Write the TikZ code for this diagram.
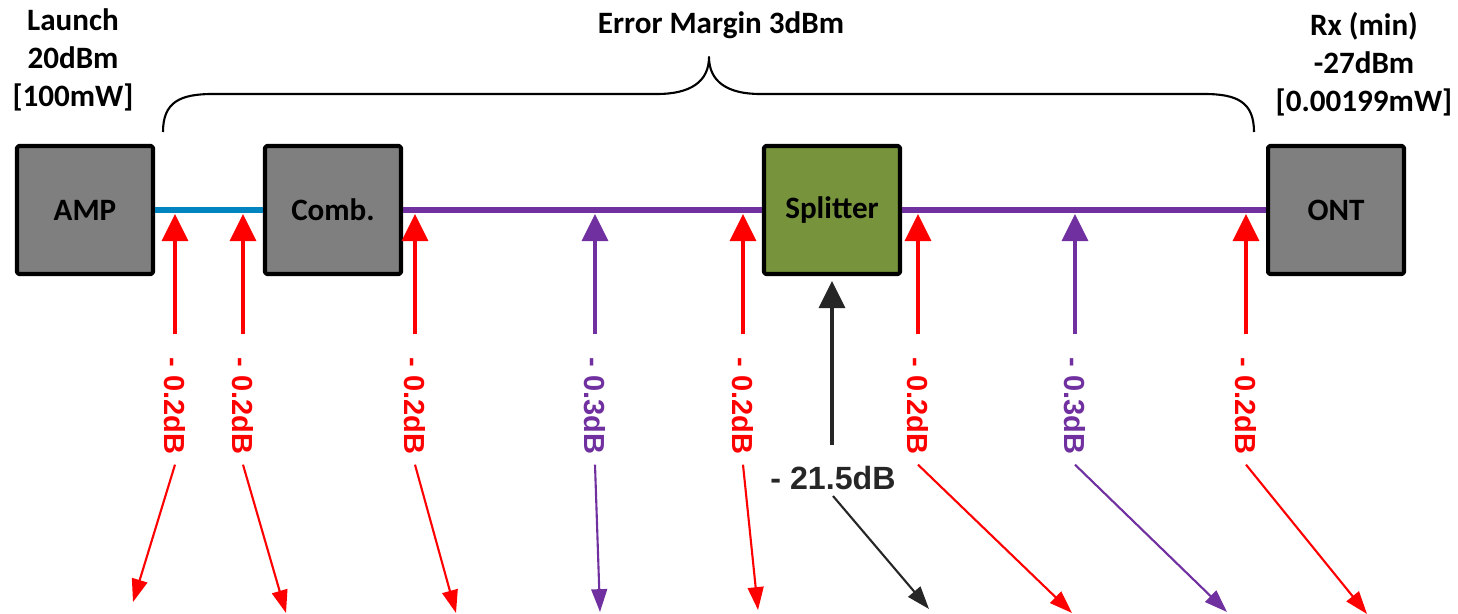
\documentclass[tikz,border=0pt]{standalone}
\usepackage{fontspec}
\setmainfont{Carlito}
\newfontfamily\arialfont{Liberation Sans}
\usetikzlibrary{arrows.meta}

\definecolor{ampgray}{HTML}{7F7F7F}
\definecolor{splgreen}{HTML}{77933C}
\definecolor{fibblue}{HTML}{0084C0}
\definecolor{fibpurple}{HTML}{7030A0}
\definecolor{lossdark}{HTML}{262626}

\begin{document}
\begin{tikzpicture}[line join=round, >={Triangle[width=14.8pt,length=15.4pt]}, x=0.02cm, y=-0.02cm,
  box/.style={draw, line width=2.3pt, fill=ampgray, rounded corners=1pt, minimum width=2.72cm, minimum height=2.56cm, font=\bfseries\fontsize{17.7}{21.6}\selectfont},
  info/.style={align=center, font=\bfseries\fontsize{17.7}{21.6}\selectfont},
  fiber/.style={line width=3.4pt},
  dbtxt/.style={rotate=-90, inner sep=0.2cm, font=\arialfont\bfseries\fontsize{16.5}{18}\selectfont},
  up/.style={line width=1.9pt, ->, shorten <=0.26cm},
  down/.style={line width=1.2pt, -{Triangle[width=9pt,length=13pt]}}]
  \useasboundingbox (0,0) rectangle (1458,614);
  % blocs
  \node[box] (amp) at (85,210) {AMP};
  \node[box] (comb) at (333,210) {Comb.};
  \node[box, fill=splgreen] (spl) at (832,210) {Splitter};
  \node[box] (ont) at (1336,210) {ONT};
  % fibres
  \draw[fiber, fibblue] (amp) -- (comb);
  \draw[fiber, fibpurple] (comb) -- (spl);
  \draw[fiber, fibpurple] (spl) -- (ont);
  % textes du haut
  \node[info] (launch) at (73,60) {Launch\\20dBm\\{[}100mW{]}};
  \node[info] (rx) at (1364,64) {Rx (min)\\-27dBm\\{[}0.00199mW{]}};
  \node[info] (margin) at (721,25) {Error Margin 3dBm};
  \draw[line width=1.2pt] (163,132) .. controls (163,102) and (180,94) .. (213,94) -- (657,94)
    .. controls (690,94) and (709,82) .. (709,57) .. controls (709,82) and (728,94) .. (760,94)
    -- (1204,94) .. controls (1237,94) and (1254,102) .. (1254,132);
  % points de perte
  \coordinate (t1) at (175,214);
  \coordinate (t2) at (243,214);
  \coordinate (t3) at (415,214);
  \coordinate (t4) at (595,214);
  \coordinate (t5) at (743,214);
  \coordinate (t6) at (918,214);
  \coordinate (t7) at (1075,214);
  \coordinate (t8) at (1246,214);
  \coordinate (e1) at (133,602);
  \coordinate (e2) at (286,613);
  \coordinate (e3) at (456,613);
  \coordinate (e4) at (600,612);
  \coordinate (e5) at (758,610);
  \coordinate (e6) at (1072,613);
  \coordinate (e7) at (1227,612);
  \coordinate (e8) at (1367,614);
  \coordinate (e9) at (929,609);
  \node[dbtxt, text=red] (l1) at (175,406) {- 0.2dB};
  \node[dbtxt, text=red] (l2) at (243,406) {- 0.2dB};
  \node[dbtxt, text=red] (l3) at (415,406) {- 0.2dB};
  \node[dbtxt, text=fibpurple] (l4) at (595,406) {- 0.3dB};
  \node[dbtxt, text=red] (l5) at (743,406) {- 0.2dB};
  \node[dbtxt, text=red] (l6) at (918,406) {- 0.2dB};
  \node[dbtxt, text=fibpurple] (l7) at (1075,406) {- 0.3dB};
  \node[dbtxt, text=red] (l8) at (1246,406) {- 0.2dB};
  \node[text=lossdark, font=\arialfont\bfseries\fontsize{18.3}{20}\selectfont] (splloss) at (833,478) {- 21.5dB};
  % fleches
  \draw[up, red] (l1.west) -- (t1);
  \draw[up, red] (l2.west) -- (t2);
  \draw[up, red] (l3.west) -- (t3);
  \draw[up, fibpurple] (l4.west) -- (t4);
  \draw[up, red] (l5.west) -- (t5);
  \draw[up, red] (l6.west) -- (t6);
  \draw[up, fibpurple] (l7.west) -- (t7);
  \draw[up, red] (l8.west) -- (t8);
  \draw[up, lossdark, shorten <=0pt, shorten >=0.1cm] ([yshift=0.3cm]splloss.north -| spl.south) -- (spl.south);
  \draw[down, red] (l1.east) -- (e1);
  \draw[down, red] (l2.east) -- (e2);
  \draw[down, red] (l3.east) -- (e3);
  \draw[down, fibpurple] (l4.east) -- (e4);
  \draw[down, red] (l5.east) -- (e5);
  \draw[down, red] (l6.east) -- (e6);
  \draw[down, fibpurple] (l7.east) -- (e7);
  \draw[down, red] (l8.east) -- (e8);
  \draw[down, lossdark] (splloss.south) -- (e9);
\end{tikzpicture}
\end{document}
